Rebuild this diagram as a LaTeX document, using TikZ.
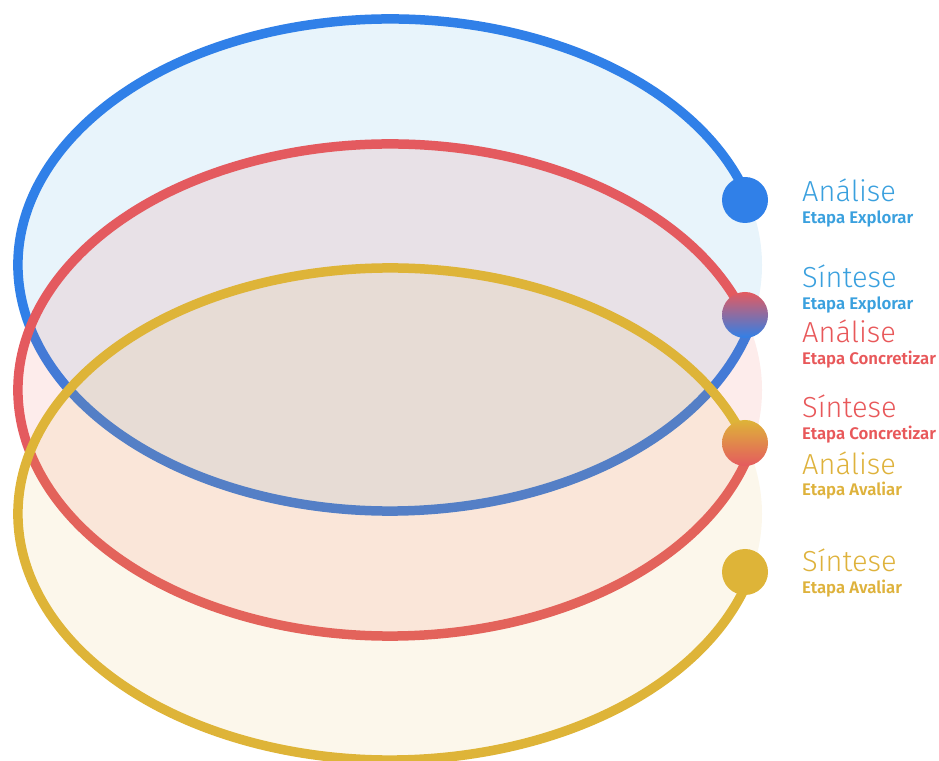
\documentclass[tikz,border=0pt]{standalone}
\usepackage{fontspec}
\setmainfont{Fira Sans}
\newfontfamily\lightfont{Fira Sans Light}
\newfontfamily\semifont{Fira Sans SemiBold}
\usetikzlibrary{positioning}
\definecolor{explorline}{RGB}{48,128,232}
\definecolor{explorfill}{RGB}{232,244,251}
\definecolor{explortext}{RGB}{58,160,222}
\definecolor{concrline}{RGB}{228,90,95}
\definecolor{concrfill}{RGB}{235,80,70}
\definecolor{concrtext}{RGB}{232,88,90}
\definecolor{avalline}{RGB}{222,180,56}
\definecolor{avalfill}{RGB}{225,180,60}
\definecolor{avaltext}{RGB}{222,178,60}
\tikzset{
  ring/.style={line width=9.5pt},
  dot/.style={circle, minimum size=46pt, inner sep=0pt},
  phase/.style={anchor=base west, inner sep=0pt,
    font=\lightfont\fontsize{29}{29}\selectfont},
  stage/.style={anchor=base west, inner sep=0pt,
    font=\semifont\fontsize{16.8}{16.8}\selectfont},
}

\begin{document}
\begin{tikzpicture}[x=1pt, y=1pt]
  \useasboundingbox (0,0) rectangle (939,760);

  % Explorar
  \fill[explorfill] (390,495) ellipse[x radius=372, y radius=246];
  \draw[ring, explorline] (390,495) ++(15:372 and 246)
    arc[start angle=15, end angle=348, x radius=372, y radius=246];

  % Concretizar
  \fill[concrfill, opacity=0.11] (390,370) ellipse[x radius=372, y radius=246];
  \draw[ring, concrline] (390,370) ++(17.75:372 and 246)
    arc[start angle=17.75, end angle=347.55, x radius=372, y radius=246];

  % Avaliar
  \fill[avalfill, opacity=0.1] (390,246) ellipse[x radius=372, y radius=246];
  \draw[ring, avalline] (390,246) ++(16.8:372 and 246)
    arc[start angle=16.8, end angle=346.4, x radius=372, y radius=246];

  % Dots
  \node[dot, fill=explorline] (d1) at (745,560) {};
  \node[dot, top color=concrline, bottom color=explorline] (d2) at (745,445) {};
  \node[dot, top color=avalline, bottom color=concrline] (d3) at (745,317) {};
  \node[dot, fill=avalline] (d4) at (745,188) {};

  % Labels
  \node[phase, text=explortext] (a1) at (802,558) {Análise};
  \node[below=22pt of a1.base west, stage, text=explortext] (e1) {Etapa Explorar};
  \node[phase, text=explortext] (s1) at (802,472) {Síntese};
  \node[below=22pt of s1.base west, stage, text=explortext] (e2) {Etapa Explorar};
  \node[phase, text=concrtext] (a2) at (802,417) {Análise};
  \node[below=22pt of a2.base west, stage, text=concrtext] (c1) {Etapa Concretizar};
  \node[phase, text=concrtext] (s2) at (802,342) {Síntese};
  \node[below=22pt of s2.base west, stage, text=concrtext] (c2) {Etapa Concretizar};
  \node[phase, text=avaltext] (a3) at (802,285) {Análise};
  \node[below=21pt of a3.base west, stage, text=avaltext] (v1) {Etapa Avaliar};
  \node[phase, text=avaltext] (s3) at (802,188) {Síntese};
  \node[below=22pt of s3.base west, stage, text=avaltext] (v2) {Etapa Avaliar};
\end{tikzpicture}
\end{document}
